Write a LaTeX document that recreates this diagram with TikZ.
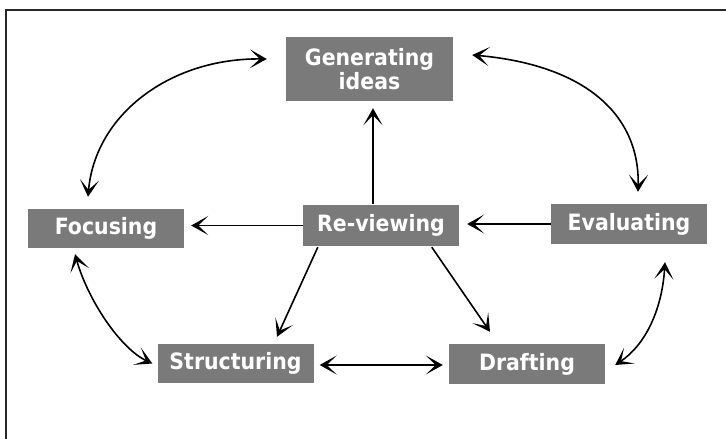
\documentclass[tikz,border=0pt]{standalone}
\usepackage{fontspec}
\newfontfamily\boxfont{DejaVu Sans}[FakeStretch=0.91]
\usetikzlibrary{arrows.meta,calc}
\definecolor{boxgray}{RGB}{122,122,122}
\definecolor{framegray}{RGB}{40,40,40}
\tikzset{
  tip/.tip={Stealth[length=17pt,width=19pt,inset=10pt]},
  stagebox/.style={fill=boxgray, text=white, inner sep=0pt,
    minimum width=156pt, font=\boxfont\bfseries\fontsize{22.5}{23.5}\selectfont,
    align=center},
  link/.style={line width=1.6pt, black, arrows={-tip}},
  dlink/.style={line width=1.6pt, black, arrows={tip-tip}},
}
\begin{document}
\begin{tikzpicture}[x=1pt,y=-1pt]
\useasboundingbox (0,0) rectangle (726,439);
\draw[framegray, line width=1.8pt] (6,439) -- (6,10) -- (726,10);
\node[stagebox, minimum width=167pt, minimum height=64pt] (gen) at (369.5,69) {Generating\\ideas};
\node[stagebox, minimum height=41pt] (rev) at (381,225.5) {Re-viewing};
\node[stagebox, minimum height=39pt] (foc) at (106,228.5) {Focusing};
\node[stagebox, minimum height=40pt] (eva) at (629,224) {Evaluating};
\node[stagebox, minimum height=39pt] (str) at (235.5,363.5) {Structuring};
\node[stagebox, minimum height=40pt] (drf) at (527,364) {Drafting};
% straight connectors
\draw[link, shorten >=7pt] (rev.west) -- (rev.west -| foc.east);
\draw[link, shorten >=8pt] (eva.west) -- (eva.west -| rev.east);
\draw[link, shorten >=7pt] (gen.south -| 373,0) ++(0,103) -- (gen.south -| 373,0);
\draw[dlink, shorten <=6pt, shorten >=6pt] (str.east |- 0,365) -- (drf.west |- 0,365);
\draw[link] ($(rev.south west)+(15,1)$) -- ($(str.north)+(41.5,-7)$);
\draw[link] ($(rev.south west)+(129,1)$) -- ($(drf.north)+(-37,-12)$);
% curved connectors
\draw[dlink] ($(foc.north)+(-18,-12)$) .. controls +(7,-82) and +(-97,-1) .. ($(gen.west)+(-19,-10)$);
\draw[dlink] ($(gen.east)+(19,-14)$) .. controls +(113,10) and +(2,-77) .. ($(eva.north)+(9,-12)$);
\draw[dlink] ($(foc.south)+(-31,6)$) .. controls +(13,46) and +(-32,-15) .. ($(str.west)+(-5,0)$);
\draw[dlink] ($(eva.south)+(36,18)$) .. controls +(-3,48) and +(30,-20) .. ($(drf.east)+(10,1)$);
\end{tikzpicture}
\end{document}
